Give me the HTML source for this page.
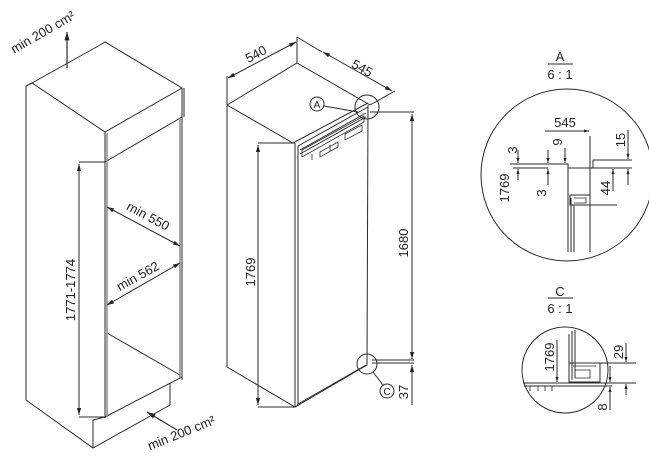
<!DOCTYPE html>
<html><head><meta charset="utf-8"><style>
html,body{margin:0;padding:0;background:#fff;}
svg{display:block;}
text{font-family:"Liberation Sans",sans-serif;fill:#222;}
</style></head><body>
<svg width="649" height="461" viewBox="0 0 649 461" xmlns="http://www.w3.org/2000/svg">
<defs>
<marker id="ar" viewBox="0 0 10 10" refX="10" refY="5" markerWidth="7" markerHeight="7" orient="auto-start-reverse"><path d="M0,2 L10,5 L0,8 z" fill="#222"/></marker>
<marker id="as" viewBox="0 0 10 10" refX="10" refY="5" markerWidth="5" markerHeight="5" orient="auto-start-reverse"><path d="M0,2 L10,5 L0,8 z" fill="#222"/></marker>
</defs>
<g stroke="#2a2a2a" stroke-width="1" fill="none">
<!-- LEFT CABINET -->
<path d="M26,86 L26,400 L93,448 L170,405 L170,383"/>
<path d="M26,86 L32,83 L105,132 L182,88 L105,42 L100,45"/>
<path d="M32,83 L100,45"/>
<path d="M105,132 L105,418 M105,162 L182,117 M182,88 L182,380 M184,88 L184,117"/>
<path d="M105,417 L182,377 M107,333 L180,375 M93,420 L93,448 M93,420 L105,417"/>
<path d="M107,133 L107,417 M180,118 L180,378" stroke="#888" stroke-width="1.5"/>
<path d="M79,162 L105,162 M79,417 L105,417"/>
<path d="M79,164 L79,415" marker-start="url(#ar)" marker-end="url(#ar)"/>
<path d="M107,207 L180,246" marker-start="url(#ar)" marker-end="url(#ar)"/>
<path d="M107,305 L180,263" marker-start="url(#ar)" marker-end="url(#ar)"/>
<path d="M67,68 L67,32" marker-end="url(#ar)" stroke-width="1.2"/>
<path d="M177,430 L147,412" marker-end="url(#ar)" stroke-width="1.2"/>

<!-- MIDDLE FRIDGE -->
<path d="M227,105 L297,63 L370,105 M227,105 L293,143 L368,103"/>
<path d="M227,105 L227,367 L295,407 L367,365 L368,105"/>
<path d="M295,143 L295,407 M298,146 L298,404"/>
<path d="M298,146 L368,107 M300,150 L366,113 M300,154 L366,117"/>
<path d="M302,157 L302,150 L364,116 L364,122 Z" stroke-width="0.8"/>
<path d="M320,152 L338,142 L338,147 L320,157 Z M345,134 L362,125 L362,131 L345,140 Z M312,154 L312,160 M330,145 L330,151" stroke-width="0.8"/>
<path d="M298,404 L366,365 M296,407 L298,404" stroke-width="0.8"/>
<!-- dims -->
<path d="M227,105 L227,76 M297,63 L297,37 M370,105 L395,91 M322,52 L297,37"/>
<path d="M228,78 L296,42" marker-start="url(#ar)" marker-end="url(#ar)"/>
<path d="M323,52 L392,91" marker-start="url(#ar)" marker-end="url(#ar)"/>
<path d="M258,143 L295,143 M258,407 L295,407"/>
<path d="M258,145 L258,405" marker-start="url(#ar)" marker-end="url(#ar)"/>
<path d="M370,112 L414,112 M372,360 L414,360 M372,363 L414,363"/>
<path d="M412,114 L412,359" marker-start="url(#ar)" marker-end="url(#ar)"/>
<path d="M412,405 L412,365" marker-end="url(#ar)"/>
<circle cx="367" cy="107" r="12"/>
<circle cx="317" cy="104" r="7"/>
<path d="M324,106 L358,112"/>
<circle cx="367" cy="364" r="10"/>
<circle cx="387" cy="391" r="7"/>
<path d="M383,385 L373,372"/>

<!-- DETAIL A -->
<path d="M548,64 L573,64"/>
<circle cx="567" cy="175" r="86"/>
<path d="M510,164 L568,164 L568,168 L593,168 L593,160 L632,160 M593,168 L632,168"/>
<path d="M568,168 L568,252 M571,198 L571,252 M574,205 L574,252"/>
<path d="M590,136 L590,252"/>
<rect x="570" y="195" width="20" height="10"/>
<path d="M574,198 L586,198 L586,203 L574,203" stroke-width="0.8"/>
<path d="M545,131 L589,131" marker-end="url(#as)"/>
<path d="M590,205 L617,205"/>
<path d="M613,191 L613,169" marker-end="url(#as)"/>
<path d="M628,130 L628,159" marker-end="url(#as)"/>
<path d="M628,185 L628,169" marker-end="url(#as)"/>
<path d="M518,150 L518,163" marker-end="url(#as)"/>
<path d="M518,180 L518,169" marker-end="url(#as)"/>
<path d="M565,148 L565,163" marker-end="url(#as)"/>
<path d="M548,150 L548,163" marker-end="url(#as)"/>
<path d="M548,185 L548,169" marker-end="url(#as)"/>
<path d="M513,168 L548,168"/>

<!-- DETAIL C -->
<path d="M548,298 L573,298"/>
<circle cx="565" cy="370" r="43"/>
<path d="M569,334 L569,382 M572,331 L572,380 M575,330 L575,378"/>
<path d="M523,383 L636,383 M524,386 L612,386"/>
<rect x="569" y="363" width="31" height="19"/>
<path d="M573,366 L596,366 M575,370 L590,370 L590,378 L575,378 Z" stroke-width="0.8"/>
<path d="M530,386 L530,391 M538,386 L538,391 M545,386 L545,391 M552,386 L552,391" stroke-width="0.8"/>
<path d="M600,363 L636,363"/>
<path d="M626,343 L626,362" marker-end="url(#as)"/>
<path d="M626,395 L626,384" marker-end="url(#as)"/>
<path d="M610,366 L610,382" marker-end="url(#as)"/>
<path d="M610,410 L610,387" marker-end="url(#as)"/>
<path d="M557,340 L557,382" marker-end="url(#as)"/>
</g>

<g font-size="13">
<text transform="translate(45,36) rotate(-30)" text-anchor="middle">min 200 cm²</text>
<text transform="translate(183,437) rotate(-22)" text-anchor="middle">min 200 cm²</text>
<text transform="translate(146,220) rotate(28)" text-anchor="middle">min 550</text>
<text transform="translate(140,280) rotate(-29)" text-anchor="middle">min 562</text>
<text transform="translate(75,290) rotate(-90)" text-anchor="middle">1771-1774</text>
<text transform="translate(258,58) rotate(-28)" text-anchor="middle">540</text>
<text transform="translate(360,72) rotate(29)" text-anchor="middle">545</text>
<text transform="translate(255,272) rotate(-90)" text-anchor="middle">1769</text>
<text transform="translate(408,243) rotate(-90)" text-anchor="middle">1680</text>
<text transform="translate(408,392) rotate(-90)" text-anchor="middle">37</text>
<text x="317" y="108" font-size="10" text-anchor="middle">A</text>
<text x="387" y="395" font-size="10" text-anchor="middle">C</text>
<text x="560" y="61" text-anchor="middle">A</text>
<text x="560" y="79" text-anchor="middle">6 : 1</text>
<text x="565" y="127" text-anchor="middle">545</text>
<text transform="translate(625,140) rotate(-90)" text-anchor="middle">15</text>
<text transform="translate(562,142) rotate(-90)" text-anchor="middle">9</text>
<text transform="translate(517,150) rotate(-90)" text-anchor="middle">3</text>
<text transform="translate(509,188) rotate(-90)" text-anchor="middle">1769</text>
<text transform="translate(546,193) rotate(-90)" text-anchor="middle">3</text>
<text transform="translate(610,188) rotate(-90)" text-anchor="middle">44</text>
<text x="560" y="296" text-anchor="middle">C</text>
<text x="560" y="313" text-anchor="middle">6 : 1</text>
<text transform="translate(554,357) rotate(-90)" text-anchor="middle">1769</text>
<text transform="translate(623,352) rotate(-90)" text-anchor="middle">29</text>
<text transform="translate(607,407) rotate(-90)" text-anchor="middle">8</text>
</g>
</svg>
</body></html>
